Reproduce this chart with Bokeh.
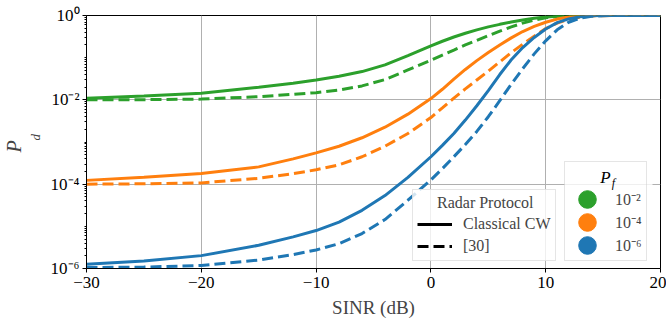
import numpy as np
from bokeh.plotting import figure
from bokeh.models import Legend, LegendItem, Label, FixedTicker, Range1d, BoxAnnotation, Title
from bokeh.embed import file_html
from bokeh.resources import INLINE

# ---------------- data ----------------
sinr_db = [-30, -25, -20, -15, -12, -10, -8, -6, -4, -2,
           0, 1, 2, 3, 4, 5, 6, 7, 8, 9, 10, 11, 12, 13, 14, 15, 16, 18, 20]

cw_pf2 = [0.0109, 0.0123, 0.0143, 0.0200, 0.0246, 0.0295, 0.0363, 0.0468, 0.0676, 0.112,
          0.190, 0.245, 0.309, 0.380, 0.457, 0.537, 0.617, 0.700, 0.785, 0.861, 0.923, 0.966,
          0.989, 0.998, 1, 1, 1, 1, 1]
ref_pf2 = [0.0100, 0.0101, 0.0104, 0.0119, 0.0135, 0.0148, 0.0170, 0.0214, 0.0302, 0.0513,
           0.0871, 0.115, 0.151, 0.200, 0.257, 0.331, 0.427, 0.537, 0.661, 0.776, 0.881, 0.951,
           0.984, 0.998, 1, 1, 1, 1, 1]
cw_pf4 = [1.23e-4, 1.45e-4, 1.78e-4, 2.57e-4, 3.98e-4, 5.53e-4, 7.94e-4, 1.26e-3, 2.24e-3, 4.57e-3,
          0.0107, 0.0178, 0.0309, 0.0525, 0.0851, 0.132, 0.200, 0.295, 0.417, 0.550, 0.692, 0.822,
          0.923, 0.977, 0.995, 1, 1, 1, 1]
ref_pf4 = [1.00e-4, 1.02e-4, 1.07e-4, 1.38e-4, 1.78e-4, 2.19e-4, 2.88e-4, 4.47e-4, 7.94e-4, 1.59e-3,
           3.80e-3, 6.46e-3, 0.0110, 0.0182, 0.0295, 0.0479, 0.0794, 0.132, 0.209, 0.324, 0.490,
           0.661, 0.813, 0.912, 0.973, 0.993, 1, 1, 1]
cw_pf6 = [1.26e-6, 1.51e-6, 2.02e-6, 3.55e-6, 5.62e-6, 7.94e-6, 1.26e-5, 2.40e-5, 5.37e-5, 1.45e-4,
          4.47e-4, 8.32e-4, 1.59e-3, 3.31e-3, 7.24e-3, 0.0166, 0.0398, 0.0891, 0.174, 0.302, 0.479,
          0.676, 0.832, 0.933, 0.982, 1, 1, 1, 1]
ref_pf6 = [1.05e-6, 1.08e-6, 1.18e-6, 1.59e-6, 2.14e-6, 2.75e-6, 3.89e-6, 6.76e-6, 1.45e-5, 4.17e-5,
           1.26e-4, 2.34e-4, 4.47e-4, 8.71e-4, 1.78e-3, 3.98e-3, 9.55e-3, 0.0234, 0.0550, 0.123,
           0.251, 0.457, 0.692, 0.871, 0.955, 0.991, 1, 1, 1]

pf_labels = ["10\u207b\u00b2", "10\u207b\u2074", "10\u207b\u2076"]
protocol_labels = ["Classical CW", "[30]"]
protocol_title = "Radar Protocol"

x_ticks = [-30, -20, -10, 0, 10, 20]
x_tick_labels = ["\u221230", "\u221220", "\u221210", "0", "10", "20"]
y_ticks = [1e-6, 1e-4, 1e-2, 1.0]
y_tick_labels = ["10\u207b\u2076", "10\u207b\u2074", "10\u207b\u00b2", "10\u2070"]

GREEN, ORANGE, BLUE = "#2ca02c", "#ff7f0e", "#1f77b4"
FONT = "Liberation Serif"

p = figure(width=666, height=325, x_range=Range1d(-30, 20), y_range=Range1d(1e-6, 1.0),
           y_axis_type="log", output_backend="svg", toolbar_location=None,
           min_border_left=86, min_border_right=6, min_border_top=15, min_border_bottom=57)

p.background_fill_color = "white"
p.border_fill_color = "white"
p.outline_line_color = "black"
p.outline_line_width = 1

# axes
p.xaxis.ticker = FixedTicker(ticks=x_ticks)
p.xaxis.major_label_overrides = dict(zip(x_ticks, x_tick_labels))
minor = [k * 10.0 ** e for e in range(-6, 0) for k in range(1, 10) if not (k == 1 and e % 2 == 0)]
p.yaxis.ticker = FixedTicker(ticks=y_ticks, minor_ticks=minor)
p.yaxis.major_label_overrides = dict(zip(y_ticks, y_tick_labels))
for ax in (p.xaxis, p.yaxis):
    ax.major_label_text_font = FONT
    ax.major_label_text_font_size = "17px"
    ax.major_label_text_color = "black"
    ax.axis_line_color = "black"
    ax.major_tick_line_color = "black"
    ax.minor_tick_line_color = "black"
    ax.major_tick_out = 4
    ax.major_tick_in = 0
    ax.minor_tick_out = 2
    ax.minor_tick_in = 0
p.xaxis.minor_tick_line_color = None
p.yaxis.major_label_standoff = 3
p.xaxis.major_label_standoff = 4
p.xaxis.axis_label = "SINR (dB)"
p.xaxis.axis_label_text_font = FONT
p.xaxis.axis_label_text_font_size = "19px"
p.xaxis.axis_label_text_font_style = "normal"
p.xaxis.axis_label_standoff = 6

# y label P_d: the subscript "d" is the axis label, the "P" a title just outside it
p.yaxis.axis_label = "\u2002\u2005d"
p.yaxis.axis_label_text_font = FONT
p.yaxis.axis_label_text_font_size = "13px"
p.yaxis.axis_label_text_font_style = "italic"
p.yaxis.axis_label_text_line_height = 0.6
p.yaxis.axis_label_standoff = 5
p.add_layout(Title(text="P", text_font=FONT, text_font_style="italic", text_font_size="20px",
                   align="left", vertical_align="bottom", offset=116, standoff=0), "left")

p.xgrid.ticker = FixedTicker(ticks=x_ticks)
p.ygrid.ticker = FixedTicker(ticks=y_ticks)
p.grid.grid_line_color = "#b0b0b0"
p.grid.grid_line_width = 1

LW = 3
DASH = "11 5"
series = [(cw_pf2, ref_pf2, GREEN), (cw_pf4, ref_pf4, ORANGE), (cw_pf6, ref_pf6, BLUE)]
for cw, ref, c in series:
    p.line(sinr_db, cw, line_color=c, line_width=LW)
    p.line(sinr_db, ref, line_color=c, line_width=LW, line_dash=DASH)

# legend proxies (not drawn in the plot)
nan = [float("nan")]
solid_proxy = p.line(x=nan, y=nan, line_color="black", line_width=LW)
dash_proxy = p.line(x=nan, y=nan, line_color="black", line_width=LW, line_dash=DASH)
dot_proxies = [p.ellipse(x=nan, y=nan, width=1, height=1, width_units="screen",
                         height_units="screen", fill_color=c, line_color=c)
               for c in (GREEN, ORANGE, BLUE)]

# translucent backing for the P_f legend (legend itself is transparent so its title shows)
p.add_layout(BoxAnnotation(left=478, right=566, bottom=7, top=106,
                           left_units="screen", right_units="screen",
                           bottom_units="screen", top_units="screen",
                           fill_color="white", fill_alpha=0.8, line_color=None,
                           level="annotation"))

leg1 = Legend(items=[LegendItem(label=protocol_labels[0], renderers=[solid_proxy]),
                     LegendItem(label=protocol_labels[1], renderers=[dash_proxy])],
              title="\u2002\u2002\u2005" + protocol_title, location=(326, 7))
leg2 = Legend(items=[LegendItem(label=l, renderers=[r]) for l, r in zip(pf_labels, dot_proxies)],
              title="\u2003", location=(478, 7))
for lg in (leg1, leg2):
    lg.label_text_font = FONT
    lg.label_text_font_size = "16px"
    lg.title_text_font = FONT
    lg.title_text_font_size = "16px"
    lg.title_text_font_style = "normal"
    lg.border_line_color = "#cccccc"
    lg.border_line_width = 1
    lg.background_fill_alpha = 0.8
    lg.padding = 4
    lg.margin = 0
leg2.background_fill_alpha = 0
leg1.glyph_width = 35
leg1.glyph_height = 20
leg1.label_height = 20
leg1.label_standoff = 11
leg1.spacing = 2
leg1.title_standoff = 2
leg2.glyph_width = 36
leg2.glyph_height = 22
leg2.label_height = 22
leg2.spacing = 1
leg2.label_standoff = 10
leg2.title_standoff = 4
p.add_layout(leg1, "center")
p.add_layout(leg2, "center")

# legend title P_f
lab_kw = dict(x_units="screen", y_units="screen", text_font=FONT, text_font_style="italic",
              text_color="black", level="annotation", text_align="center", text_baseline="middle")
p.add_layout(Label(x=519, y=91, text="P", text_font_size="17px", **lab_kw))
p.add_layout(Label(x=527, y=86, text="f", text_font_size="12px", **lab_kw))

open("out.html", "w").write(file_html(p, INLINE))
